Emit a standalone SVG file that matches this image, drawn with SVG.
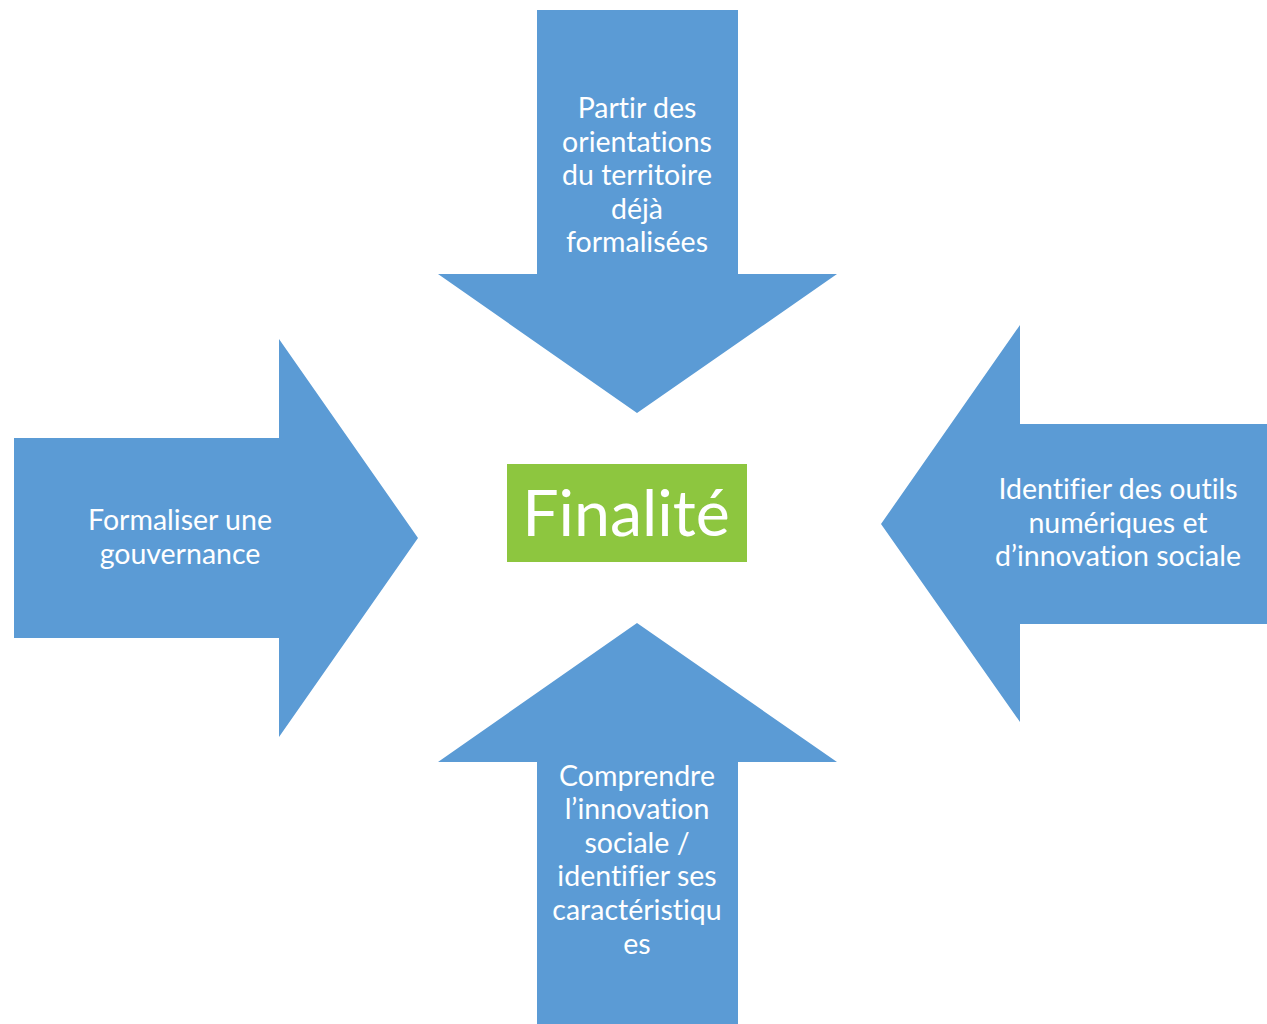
<svg xmlns="http://www.w3.org/2000/svg" width="1267" height="1024" viewBox="0 0 1267 1024">
<style>
.arrow{fill:#5B9BD5;}
.lbl{font-family:Lato,"Open Sans","Liberation Sans",sans-serif;font-size:28.5px;fill:#FFFFFF;text-anchor:middle;font-variant-ligatures:none;font-feature-settings:"liga" 0;}
.big{font-family:Lato,"Open Sans","Liberation Sans",sans-serif;font-size:64.5px;fill:#FFFFFF;text-anchor:middle;font-variant-ligatures:none;}
</style>
<rect width="1267" height="1024" fill="#FFFFFF"/>
<g id="arrows">
<g id="arrow-top">
<polygon class="arrow" points="537,10 738,10 738,274 837,274 637,413 438,274 537,274"/>
<text class="lbl" x="637" y="118">Partir des</text>
<text class="lbl" x="637" y="152">orientations</text>
<text class="lbl" x="637" y="185">du territoire</text>
<text class="lbl" x="637" y="219">déjà</text>
<text class="lbl" x="637" y="252">formalisées</text>
</g>
<g id="arrow-left">
<polygon class="arrow" points="14,438 279,438 279,339 418,538 279,737 279,638 14,638"/>
<text class="lbl" x="180" y="530">Formaliser une</text>
<text class="lbl" x="180" y="564">gouvernance</text>
</g>
<g id="arrow-right">
<polygon class="arrow" points="1267,424 1020,424 1020,325 881,524 1020,722 1020,624 1267,624"/>
<text class="lbl" x="1118" y="499">Identifier des outils</text>
<text class="lbl" x="1118" y="533">numériques et</text>
<text class="lbl" x="1118" y="566">d’innovation sociale</text>
</g>
<g id="arrow-bottom">
<polygon class="arrow" points="537,1024 738,1024 738,762 837,762 637,623 438,762 537,762"/>
<text class="lbl" x="637" y="786">Comprendre</text>
<text class="lbl" x="637" y="819">l’innovation</text>
<text class="lbl" x="637" y="853">sociale /</text>
<text class="lbl" x="637" y="886">identifier ses</text>
<text class="lbl" x="637" y="920">caractéristiqu</text>
<text class="lbl" x="637" y="954">es</text>
</g>
</g>
<g id="node-finalite">
<rect x="507" y="464" width="240" height="98" fill="#8DC63F"/>
<text class="big" x="626" y="536">Finalité</text>
</g>
</svg>
